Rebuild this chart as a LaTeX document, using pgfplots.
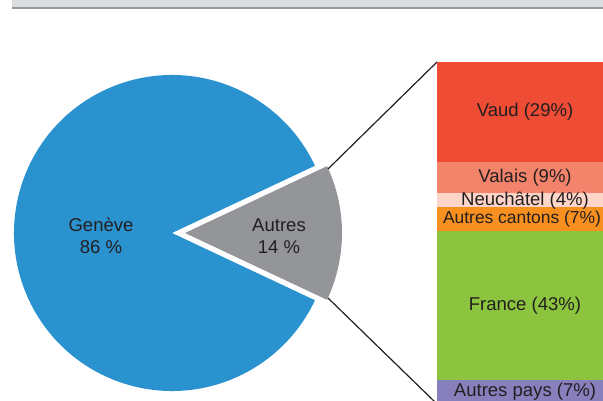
\documentclass[border=0pt]{standalone}
\usepackage{fontspec}
\setmainfont{Liberation Sans}
\usepackage{pgfplots}
\pgfplotsset{compat=1.18}
\usepackage{xcolor}

\definecolor{geneve}{HTML}{2B92D0}
\definecolor{autres}{HTML}{939598}
\definecolor{vaud}{HTML}{EF4C36}
\definecolor{valais}{HTML}{F3846B}
\definecolor{neuch}{HTML}{FCD5C8}
\definecolor{cantons}{HTML}{F7901E}
\definecolor{france}{HTML}{8CC43F}
\definecolor{pays}{HTML}{8880BD}
\definecolor{txt}{HTML}{231F20}

\pgfplotsset{barbox/.style={
  at={(437bp,-3bp)}, anchor=origin,
  scale only axis, width=176bp, height=342bp,
  xmin=0, xmax=1, ymin=0, ymax=99,
  hide axis, clip=false}}

\begin{document}
\begin{tikzpicture}[font=\fontsize{18.6}{22}\selectfont, text=txt]
\useasboundingbox (0,0) rectangle (603bp,401bp);
\clip (0,0) rectangle (603bp,401bp);

% header band
\fill[color={rgb,255:red,220;green,221;blue,223}] (12bp,394bp) rectangle (603bp,401bp);
\fill[color={rgb,255:red,150;green,151;blue,153}] (12bp,392bp) rectangle (603bp,394bp);

% pie (pixel coordinates)
\begin{axis}[
  at={(0,0)}, anchor=origin,
  x=1bp, y=1bp, xmin=0, xmax=603, ymin=0, ymax=401,
  hide axis, clip=false
]
% Genève 86 %, Autres 14 % (exploded)
\fill[geneve] (axis cs:172,168) -- ++(25.2:158bp) arc[start angle=25.2, end angle=334.8, radius=158bp] -- cycle;
\fill[autres] (axis cs:185,168) -- ++(-25.2:157bp) arc[start angle=-25.2, end angle=25.2, radius=157bp] -- cycle;
\node[align=center, inner sep=0pt] at (axis cs:101,165) {Genève\\86 \%};
\node[align=center, inner sep=0pt] at (axis cs:279,165) {Autres\\14 \%};
\draw[txt, line width=1.2bp] (axis cs:328,232) -- (axis cs:437,339);
\draw[txt, line width=1.2bp] (axis cs:328,103) -- (axis cs:437,-3);
\end{axis}

% breakdown of "Autres"
\begin{axis}[barbox, ybar stacked, bar width=176bp]
\addplot[fill=pays, draw=none] coordinates {(0.5,7)};
\addplot[fill=france, draw=none] coordinates {(0.5,43)};
\addplot[fill=cantons, draw=none] coordinates {(0.5,7)};
\addplot[fill=neuch, draw=none] coordinates {(0.5,4)};
\addplot[fill=valais, draw=none] coordinates {(0.5,9)};
\addplot[fill=vaud, draw=none] coordinates {(0.5,29)};
\end{axis}

% labels, centred in each segment
\begin{axis}[barbox]
\node[inner sep=0pt] at (axis cs:0.5,3.5) {Autres pays (7\%)};
\node[inner sep=0pt] at (axis cs:0.5,28.5) {France (43\%)};
\node[inner sep=0pt, xshift=-3bp, font=\fontsize{17.5}{21}\selectfont] at (axis cs:0.5,53.5) {Autres cantons (7\%)};
\node[inner sep=0pt] at (axis cs:0.5,59) {Neuchâtel (4\%)};
\node[inner sep=0pt] at (axis cs:0.5,65.5) {Valais (9\%)};
\node[inner sep=0pt] at (axis cs:0.5,84.5) {Vaud (29\%)};
\end{axis}
\end{tikzpicture}
\end{document}
